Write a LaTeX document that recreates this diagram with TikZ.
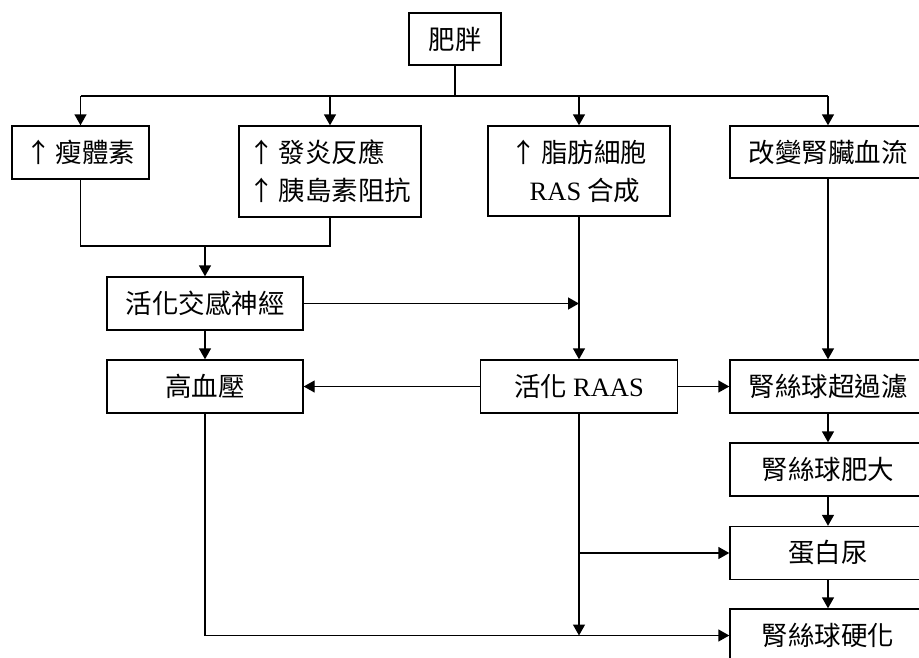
\documentclass[tikz,border=0pt]{standalone}
\usepackage{fontspec}
\setmainfont{Liberation Serif}
\newfontfamily\cjk{Noto Sans CJK TC}
\usetikzlibrary{arrows.meta}
\newcommand\lat[1]{{\rmfamily #1}}
\newcommand\upar{↑\hspace{4pt}}
\tikzset{
  box/.style={draw, line width=1.4pt, minimum height=53pt, inner sep=0pt,
    font=\cjk\fontsize{26.5}{38}\selectfont},
  conn/.style={line width=1.4pt},
  arr/.style={conn, -{Triangle[length=11pt,width=12pt]}}
}
\begin{document}
\begin{tikzpicture}[x=1pt,y=-1pt]
\useasboundingbox (0,0) rectangle (919,657);
\node[box, minimum width=92pt, minimum height=52pt] (obese) at (455,39) {肥胖};
\node[box, minimum width=137pt] (leptin) at (80.5,152.5) {\upar 瘦體素};
\node[box, minimum width=182pt, minimum height=91pt, align=left] (inflam) at (330,171.5) {\upar 發炎反應\\\upar 胰島素阻抗};
\node[box, minimum width=182pt, minimum height=90pt, align=center] (fat) at (579,171) {\upar 脂肪細胞\\\ \ \lat{RAS} 合成};
\node[box, minimum width=196pt, minimum height=52pt] (renal) at (828,152) {改變腎臟血流};
\node[box, minimum width=196pt] (sns) at (205,303.5) {活化交感神經};
\node[box, minimum width=196pt] (htn) at (205,386.5) {高血壓};
\node[box, minimum width=197pt] (raas) at (579,386.5) {活化 \lat{RAAS}};
\node[box, minimum width=196pt] (hyperf) at (828,386.5) {腎絲球超過濾};
\node[box, minimum width=196pt] (hypert) at (828,469.5) {腎絲球肥大};
\node[box, minimum width=196pt] (prot) at (828,553) {蛋白尿};
\node[box, minimum width=196pt] (scler) at (828,635.5) {腎絲球硬化};

\coordinate (bar) at (455,96);
\draw[conn] (obese.south) -- (bar);
\draw[conn] (leptin.north |- bar) -- (renal.north |- bar);
\draw[arr] (leptin.north |- bar) -- (leptin.north);
\draw[arr] (inflam.north |- bar) -- (inflam.north);
\draw[arr] (fat.north |- bar) -- (fat.north);
\draw[arr] (renal.north |- bar) -- (renal.north);

\coordinate (merge) at (205,246);
\draw[conn] (leptin.south) |- (merge) -| (inflam.south);
\draw[arr] (merge) -- (sns.north);
\draw[arr] (sns.south) -- (htn.north);
\draw[arr] (sns.east) -- (sns.east -| fat.south);
\draw[arr] (fat.south) -- (raas.north);
\draw[arr] (raas.west) -- (htn.east);
\draw[arr] (raas.east) -- (hyperf.west);
\draw[arr] (renal.south) -- (hyperf.north);
\draw[arr] (hyperf.south) -- (hypert.north);
\draw[arr] (hypert.south) -- (prot.north);
\draw[arr] (prot.south) -- (scler.north);

\coordinate (rb) at (raas.south |- scler.west);
\draw[arr] (raas.south) -- (rb);
\draw[arr] (raas.south |- prot.west) -- (prot.west);
\draw[arr] (htn.south) |- (scler.west);
\end{tikzpicture}
\end{document}
